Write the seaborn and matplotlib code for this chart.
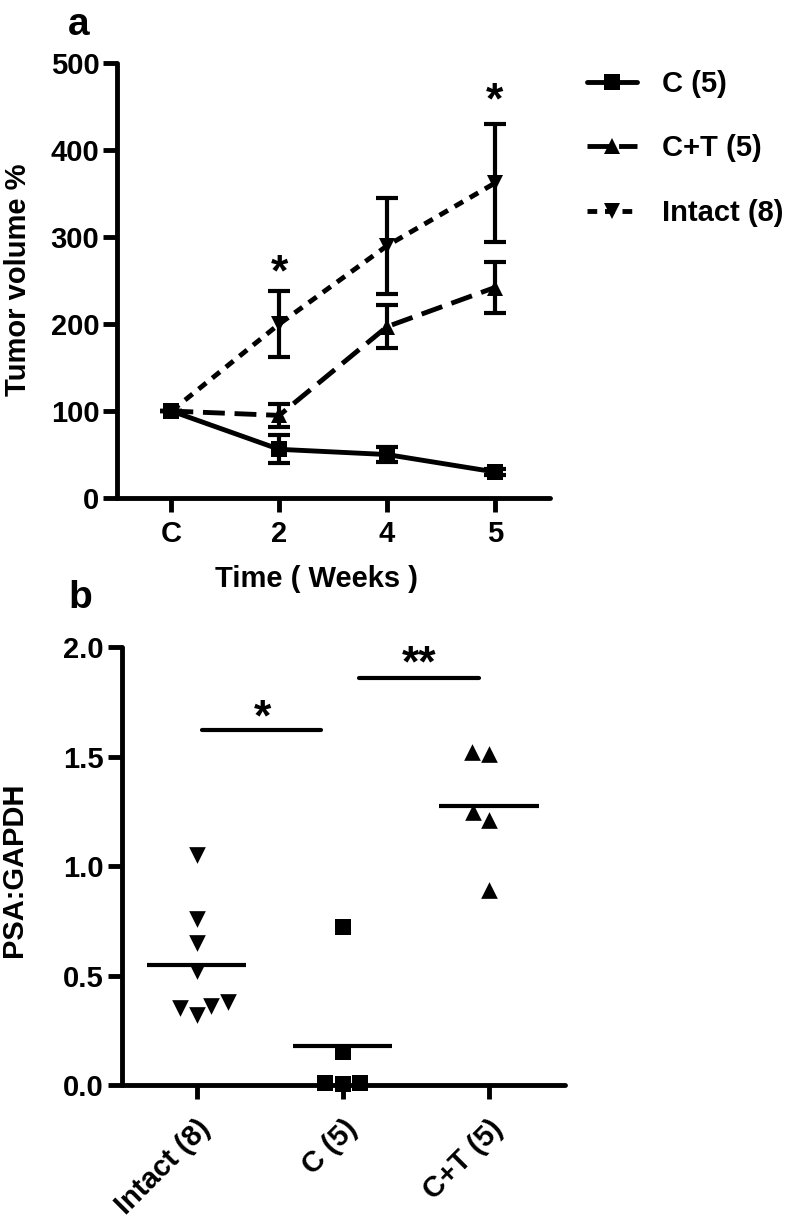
import numpy as np
import pandas as pd
import matplotlib
matplotlib.use("Agg")
import matplotlib.pyplot as plt
import seaborn as sns

# panel a: tumour volume (% of value at castration), mean and SEM
weeks = ['C', '2', '4', '5']
c_mean = [100, 56, 50, 30]
c_sem = [0, 16, 9, 3]
ct_mean = [100, 95, 197, 242]
ct_sem = [0, 13, 25, 29]
intact_mean = [100, 200, 290, 362]
intact_sem = [0, 38, 55, 68]

# panel b: PSA:GAPDH for each animal
groups = ['Intact (8)', 'C (5)', 'C+T (5)']
intact_psa = [1.05, 0.76, 0.65, 0.52, 0.36, 0.32, 0.38, 0.35]
c_psa = [0.72, 0.15, 0.01, 0.005, 0.01]
ct_psa = [1.51, 1.52, 1.245, 1.21, 0.89]

sns.set_style("ticks")
plt.rcParams['font.family'] = ['Liberation Sans', 'DejaVu Sans']
plt.rcParams['font.weight'] = 'bold'
plt.rcParams['axes.labelweight'] = 'bold'
for k in ['text.color', 'axes.labelcolor', 'xtick.color', 'ytick.color']:
    plt.rcParams[k] = 'black'

FS = 21
LW = 3.5

fig = plt.figure(figsize=(7.89, 12.27), dpi=100)
ax1 = fig.add_axes([0.1489, 0.5941, 0.548, 0.3545])
ax2 = fig.add_axes([0.1546, 0.1157, 0.5615, 0.357])

for ax in (ax1, ax2):
    for s in ['top', 'right']:
        ax.spines[s].set_visible(False)
    for s in ['left', 'bottom']:
        ax.spines[s].set_linewidth(LW)
        ax.spines[s].set_color('black')
        ax.spines[s].set_capstyle('round')
    ax.tick_params(width=LW, length=10, labelsize=FS, colors='black')
    ax.tick_params(axis='y', pad=3)

# ---- panel a ----
pos = np.arange(len(weeks))
series = [
    ('Intact (8)', intact_mean, intact_sem, 'v', (0, (2.0, 1.6)), 2),
    ('C+T (5)', ct_mean, ct_sem, '^', (0, (4.5, 2.0)), 3),
    ('C (5)', c_mean, c_sem, 's', '-', 4),
]
for name, m, e, mk, ls, z in series:
    sns.lineplot(x=pos, y=m, ax=ax1, color='black', marker=mk, markersize=12,
                 markeredgewidth=0, linewidth=LW, linestyle=ls, label=name, zorder=z)
    ax1.errorbar(pos, m, yerr=e, fmt='none', ecolor='black', elinewidth=3,
                 capsize=8, capthick=3, zorder=z)

ax1.set_xlim(-0.5, 3.51)
ax1.set_ylim(0, 500)
ax1.set_xticks(pos)
ax1.set_xticklabels(weeks)
ax1.tick_params(axis='x', pad=6)
ax1.set_yticks([0, 100, 200, 300, 400, 500])
ax1.set_xlabel('Time ( Weeks )', fontsize=FS)
ax1.xaxis.set_label_coords(0.461, -0.154)
ax1.set_ylabel('Tumor volume %', fontsize=FS)
ax1.yaxis.set_label_coords(-0.198, 0.502)
ax1.text(1, 258, '*', fontsize=32, ha='center', va='center')
ax1.text(3, 455, '*', fontsize=32, ha='center', va='center')

h, l = ax1.get_legend_handles_labels()
order = [2, 1, 0]
ax1.legend([h[i] for i in order], [l[i] for i in order], loc='upper left',
           bbox_to_anchor=(1.0855, 0.984), frameon=False, fontsize=FS,
           borderpad=0, borderaxespad=0, labelspacing=1.25,
           handlelength=1.71, handletextpad=0.86)

# ---- panel b ----
psa = pd.DataFrame({
    'group': [groups[0]] * len(intact_psa) + [groups[1]] * len(c_psa) + [groups[2]] * len(ct_psa),
    'psa': intact_psa + c_psa + ct_psa,
})
markers = ['v', 's', '^']
for g, mk in zip(groups, markers):
    sns.swarmplot(data=psa[psa['group'] == g], x='group', y='psa', order=groups,
                  ax=ax2, color='black', marker=mk, size=12, linewidth=0,
                  clip_on=False, zorder=5)

for i, g in enumerate(groups):
    mval = psa.loc[psa['group'] == g, 'psa'].mean()
    ax2.hlines(mval, i - 0.34, i + 0.34, color='black', linewidth=3)

ax2.plot([0.04, 0.85], [1.62, 1.62], color='black', linewidth=3)
ax2.text(0.45, 1.67, '*', fontsize=32, ha='center', va='center')
ax2.plot([1.11, 1.93], [1.86, 1.86], color='black', linewidth=3)
ax2.text(1.52, 1.92, '**', fontsize=32, ha='center', va='center')

ax2.set_xlim(-0.51, 2.52)
ax2.set_ylim(0, 2.0)
ax2.set_yticks([0, 0.5, 1.0, 1.5, 2.0])
ax2.set_yticklabels(['0.0', '0.5', '1.0', '1.5', '2.0'])
ax2.set_xticks(range(len(groups)))
ax2.set_xticklabels(groups, rotation=45, ha='right', rotation_mode='anchor')
ax2.tick_params(axis='x', pad=11)
ax2.set_xlabel('')
ax2.set_ylabel('PSA:GAPDH', fontsize=FS)
ax2.yaxis.set_label_coords(-0.212, 0.491)

fig.text(68 / 789, 1 - 35 / 1227, 'a', fontsize=28, fontweight='bold', ha='left', va='baseline')
fig.text(68 / 789, 1 - 608 / 1227, 'b', fontsize=28, fontweight='bold', ha='left', va='baseline')

fig.savefig('out.png', dpi=100)
